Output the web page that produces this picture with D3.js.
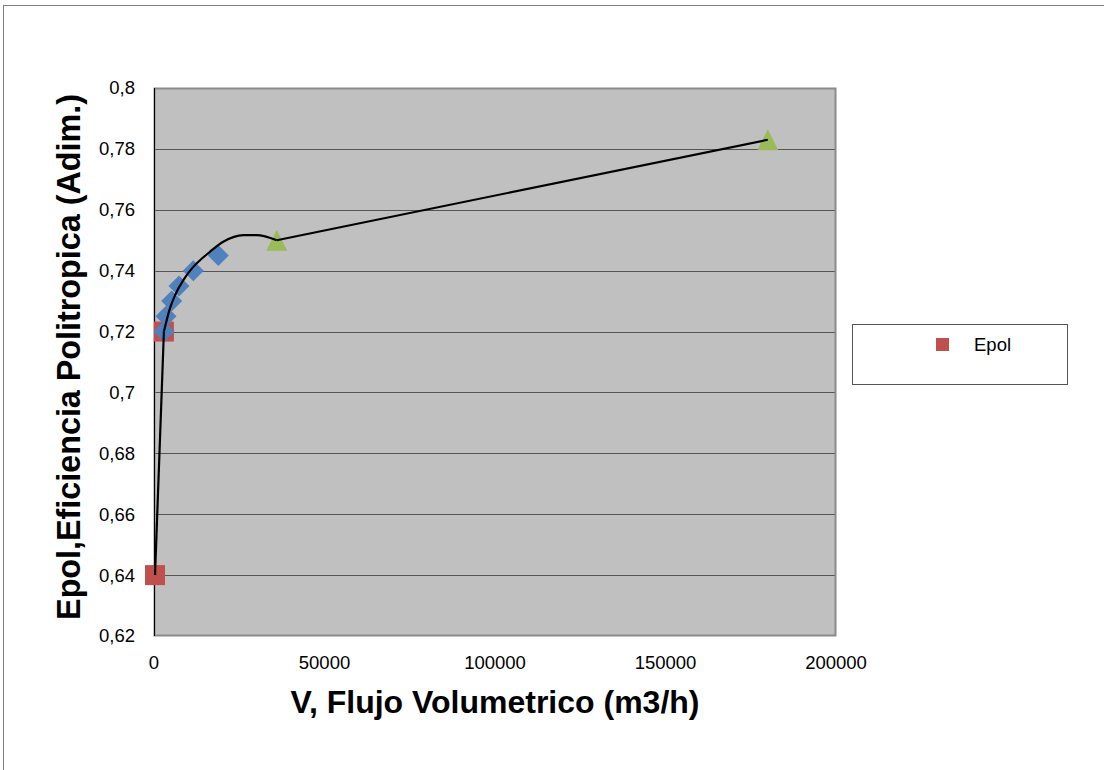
<!DOCTYPE html>
<html>
<head>
<meta charset="utf-8">
<script src="https://cdn.jsdelivr.net/npm/d3@7"></script>
<style>
  html, body { margin: 0; padding: 0; background: #fff; }
  svg { display: block; font-family: "Liberation Sans", Arial, sans-serif; }
</style>
</head>
<body>
<svg id="chart" width="1104" height="770"></svg>
<script>
// Epol series (red squares)
const epolX = [300, 2900];
const epolY = [0.64, 0.72];

// Measured points (blue diamonds)
const medX = [2930, 3520, 5190, 7330, 11520, 18860];
const medY = [0.72, 0.725, 0.73, 0.735, 0.74, 0.745];

// Design points (green triangles)
const disX = [36000, 180000];
const disY = [0.75, 0.783];

// Smoothed curve from the upper Epol point to the first design point
const curvaX = [2900, 4700, 6200, 8600, 10600, 16400, 20300, 26200, 30100, 36000];
const curvaY = [0.72, 0.7277, 0.732, 0.7369, 0.74, 0.7462, 0.7495, 0.7517, 0.7517, 0.75];

// Axis ticks
const xTicks = [0, 50000, 100000, 150000, 200000];
const yTicks = [0.62, 0.64, 0.66, 0.68, 0.7, 0.72, 0.74, 0.76, 0.78, 0.8];

const svg = d3.select("#chart");
const m = { left: 154, top: 88, width: 682, height: 548 };

const x = d3.scaleLinear().domain([0, 200000]).range([m.left, m.left + m.width]);
const y = d3.scaleLinear().domain([0.62, 0.8]).range([m.top + m.height, m.top]);

// Chart area frame
svg.append("rect")
  .attr("x", 3.5).attr("y", 5.5).attr("width", 1110).attr("height", 780)
  .attr("fill", "#fff").attr("stroke", "#7f7f7f").attr("stroke-width", 1);

// Plot area background
svg.append("rect")
  .attr("x", m.left).attr("y", m.top).attr("width", m.width).attr("height", m.height)
  .attr("fill", "#c0c0c0");

// Horizontal gridlines
svg.append("g")
  .selectAll("line")
  .data(yTicks.slice(1, -1))
  .join("line")
  .attr("x1", m.left).attr("x2", m.left + m.width)
  .attr("y1", d => Math.round(y(d)) + 0.5).attr("y2", d => Math.round(y(d)) + 0.5)
  .attr("stroke", "#555").attr("stroke-width", 1);

// Plot area border
svg.append("rect")
  .attr("x", m.left + 0.5).attr("y", m.top + 0.5).attr("width", m.width - 1).attr("height", m.height - 1)
  .attr("fill", "none").attr("stroke", "#8a8a8a").attr("stroke-width", 2);

// Y axis line
svg.append("line")
  .attr("x1", m.left + 0.5).attr("x2", m.left + 0.5)
  .attr("y1", m.top).attr("y2", m.top + m.height)
  .attr("stroke", "#000").attr("stroke-width", 1);

// Tick labels
const fmt = d => String(+d.toFixed(2)).replace(".", ",");
svg.append("g")
  .selectAll("text")
  .data(yTicks)
  .join("text")
  .attr("x", 135).attr("y", d => y(d))
  .attr("dy", "0.35em")
  .attr("text-anchor", "end")
  .attr("font-size", 18.5)
  .attr("fill", "#000")
  .text(fmt);

svg.append("g")
  .selectAll("text")
  .data(xTicks)
  .join("text")
  .attr("x", d => x(d)).attr("y", 669)
  .attr("text-anchor", "middle")
  .attr("font-size", 18.5)
  .attr("fill", "#000")
  .text(d => String(d));

// Axis titles
svg.append("text")
  .attr("x", m.left + m.width / 2).attr("y", 713)
  .attr("text-anchor", "middle")
  .attr("font-size", 32).attr("font-weight", "bold")
  .text("V, Flujo Volumetrico (m3/h)");

svg.append("text")
  .attr("transform", `translate(80, 357) rotate(-90)`)
  .attr("text-anchor", "middle")
  .attr("font-size", 32.3).attr("font-weight", "bold")
  .text("Epol,Eficiencia Politropica (Adim.)");

// Markers
const sq = 20;
svg.append("g")
  .selectAll("rect")
  .data(epolX.map((v, i) => [v, epolY[i]]))
  .join("rect")
  .attr("x", d => x(d[0]) - sq / 2).attr("y", d => y(d[1]) - sq / 2)
  .attr("width", sq).attr("height", sq)
  .attr("fill", "#c0504d");

svg.append("g")
  .selectAll("path")
  .data(medX.map((v, i) => [v, medY[i]]))
  .join("path")
  .attr("transform", d => `translate(${x(d[0])},${y(d[1])})`)
  .attr("d", "M0,-10.5L10.5,0L0,10.5L-10.5,0Z")
  .attr("fill", "#4f81bd");

svg.append("g")
  .selectAll("path")
  .data(disX.map((v, i) => [v, disY[i]]))
  .join("path")
  .attr("transform", d => `translate(${x(d[0])},${y(d[1])})`)
  .attr("d", "M0,-10.5L10.5,10.5L-10.5,10.5Z")
  .attr("fill", "#9bbb59");

const straight = d3.line().x(d => x(d[0])).y(d => y(d[1]));
const smooth = d3.line().x(d => x(d[0])).y(d => y(d[1])).curve(d3.curveMonotoneX);

// Line between the two Epol points
svg.append("path")
  .datum(epolX.map((v, i) => [v, epolY[i]]))
  .attr("d", straight)
  .attr("fill", "none").attr("stroke", "#000").attr("stroke-width", 2.2);

// Smoothed curve
svg.append("path")
  .datum(curvaX.map((v, i) => [v, curvaY[i]]))
  .attr("d", smooth)
  .attr("fill", "none").attr("stroke", "#000").attr("stroke-width", 2.2);

// Straight segment between design points
svg.append("path")
  .datum(disX.map((v, i) => [v, disY[i]]))
  .attr("d", straight)
  .attr("fill", "none").attr("stroke", "#000").attr("stroke-width", 2.2);

// Legend
const lg = svg.append("g");
lg.append("rect")
  .attr("x", 852.5).attr("y", 324.5).attr("width", 215).attr("height", 60)
  .attr("fill", "#fff").attr("stroke", "#555").attr("stroke-width", 1);
lg.append("rect")
  .attr("x", 936).attr("y", 338).attr("width", 13).attr("height", 13)
  .attr("fill", "#c0504d");
lg.append("text")
  .attr("x", 974).attr("y", 351)
  .attr("font-size", 18.5)
  .text("Epol");
</script>
</body>
</html>
